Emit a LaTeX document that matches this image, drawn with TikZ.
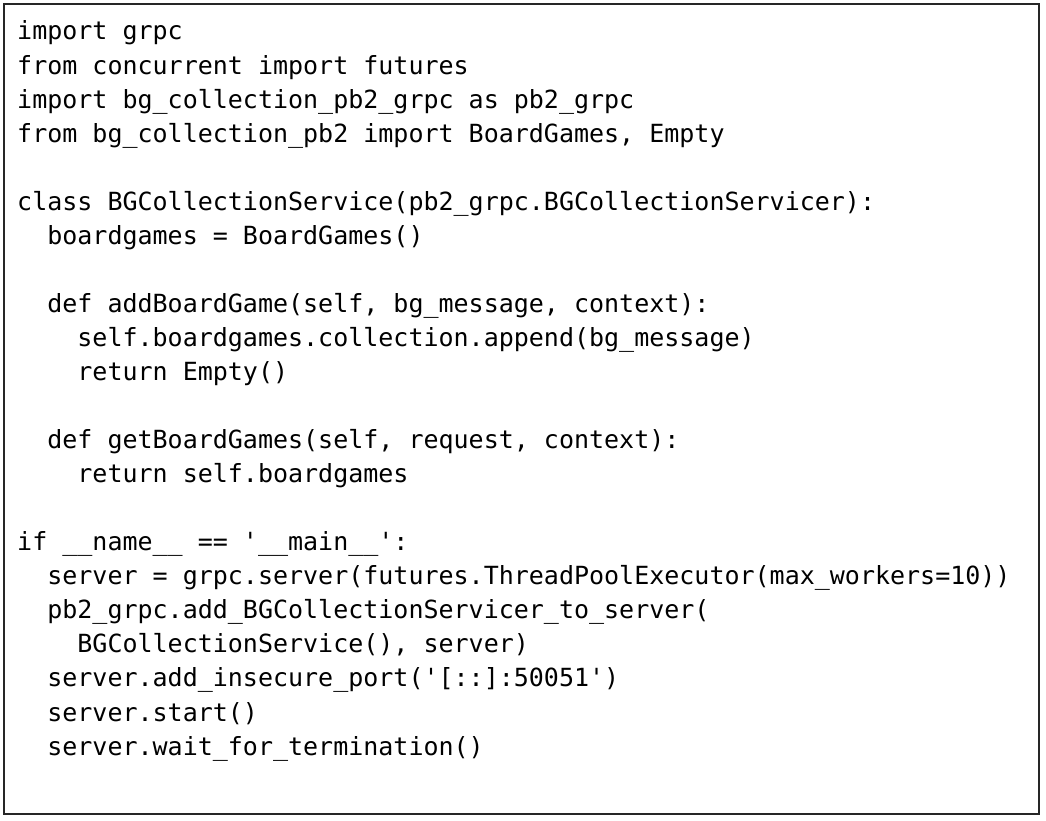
\documentclass[tikz,border=0pt]{standalone}
\usepackage{fontspec}
\setmonofont{DejaVu Sans Mono}
\tikzset{
  codeline/.style={anchor=base west, inner sep=0pt, font=\ttfamily\fontsize{25}{34}\selectfont, text=black},
  frame/.style={draw=black!85, line width=2pt}
}
\newcommand{\us}{\_}
\begin{document}
\begin{tikzpicture}[x=1pt,y=1pt]
\useasboundingbox (0,0) rectangle (1046,820);
\draw[frame] (4,6) rectangle (1039,816);
\def\cw{15.05}
\def\ox{17}
\def\lh{34.05}
\newcommand{\cl}[4]{\node[codeline] (#1) at ({\ox+#3*\cw},{780-(#2-1)*\lh}) {#4};}
\cl{l1}{1}{0}{import grpc}
\cl{l2}{2}{0}{from concurrent import futures}
\cl{l3}{3}{0}{import bg\us collection\us pb2\us grpc as pb2\us grpc}
\cl{l4}{4}{0}{from bg\us collection\us pb2 import BoardGames, Empty}
\cl{l6}{6}{0}{class BGCollectionService(pb2\us grpc.BGCollectionServicer):}
\cl{l7}{7}{2}{boardgames = BoardGames()}
\cl{l9}{9}{2}{def addBoardGame(self, bg\us message, context):}
\cl{l10}{10}{4}{self.boardgames.collection.append(bg\us message)}
\cl{l11}{11}{4}{return Empty()}
\cl{l13}{13}{2}{def getBoardGames(self, request, context):}
\cl{l14}{14}{4}{return self.boardgames}
\cl{l16}{16}{0}{if \us\us name\us\us{} == '\us\us main\us\us':}
\cl{l17}{17}{2}{server = grpc.server(futures.ThreadPoolExecutor(max\us workers=10))}
\cl{l18}{18}{2}{pb2\us grpc.add\us BGCollectionServicer\us to\us server(}
\cl{l19}{19}{4}{BGCollectionService(), server)}
\cl{l20}{20}{2}{server.add\us insecure\us port('[::]:50051')}
\cl{l21}{21}{2}{server.start()}
\cl{l22}{22}{2}{server.wait\us for\us termination()}
\end{tikzpicture}
\end{document}
